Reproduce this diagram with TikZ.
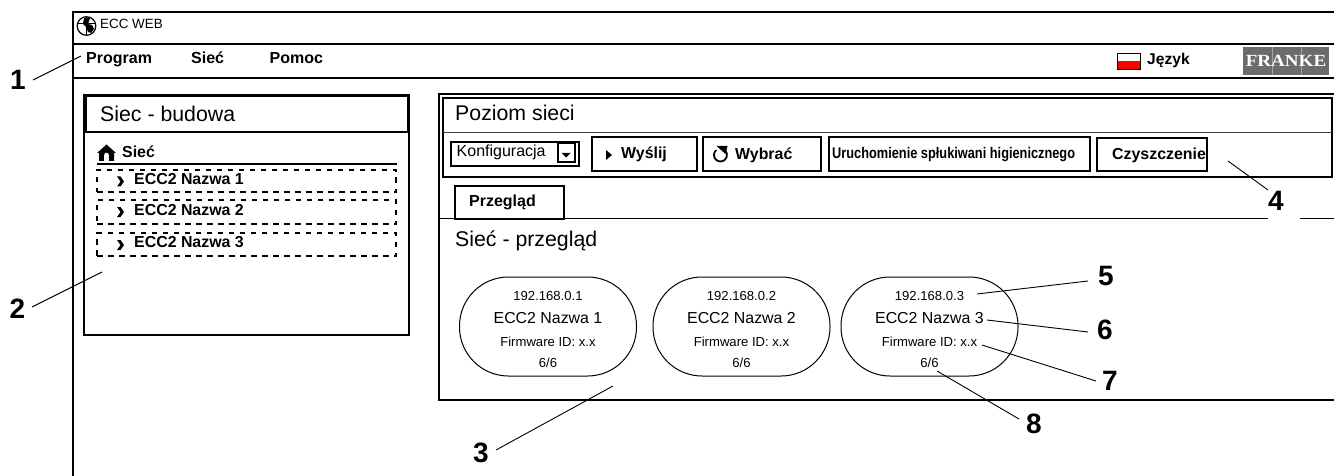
\documentclass[tikz,border=0pt]{standalone}
\usepackage{fontspec}
\usepackage{graphicx}
\setmainfont{Liberation Sans}
\tikzset{
  frame/.style={draw=black,line width=2pt,fill=none},
  rule/.style={draw=black,line width=2pt},
  thinrule/.style={draw=black!75,line width=1pt},
  btn/.style={draw=black,line width=2pt,minimum height=34pt,inner sep=0pt},
  dashbox/.style={draw=black,line width=1.2pt,dash pattern=on 5.5pt off 5.5pt,minimum width=299pt,inner sep=0pt},
  devbox/.style={draw=black,line width=1pt,rounded corners=49pt,minimum width=177pt,minimum height=99pt,inner sep=0pt},
  txt/.style={inner sep=0pt,anchor=base west},
  ctxt/.style={inner sep=0pt,anchor=center},
  btxt/.style={inner sep=0pt,anchor=base},
  menu/.style={txt,font=\bfseries\fontsize{16}{18}\selectfont},
  boldlab/.style={txt,font=\bfseries\fontsize{15.9}{18}\selectfont},
  title/.style={txt,font=\fontsize{21.3}{24}\selectfont},
  num/.style={ctxt,font=\bfseries\fontsize{28}{30}\selectfont},
  leader/.style={draw=black,line width=0.9pt},
  ip/.style={btxt,font=\fontsize{13.1}{15}\selectfont},
  dname/.style={btxt,font=\fontsize{15.9}{18}\selectfont},
}
\newcommand{\chev}[2]{\fill (#1-3,#2-5) -- (#1+0.5,#2-5) -- (#1+4,#2) -- (#1+0.5,#2+5) -- (#1-3,#2+5) -- (#1+0.5,#2) -- cycle;}
\newcommand{\device}[3]{%
  \node[devbox] (#1) at (#2,326.5) {};
  \node[ip] (#1ip) at (#2,300.5) {192.168.0.#3};
  \node[dname] (#1name) at (#2,323) {ECC2 Nazwa #3};
  \node[ip] (#1fw) at (#2,346.5) {Firmware ID: x.x};
  \node[ip] (#1st) at (#2,367) {6/6};
}
\begin{document}
\begin{tikzpicture}[x=1pt,y=-1pt]
\useasboundingbox (0,0) rectangle (1334,476);
% window
\coordinate (wtl) at (73,12); \coordinate (wtr) at (1334,12); \coordinate (wbl) at (73,476);
\draw[rule] (wtr) -- (wtl) -- (wbl);
\draw[rule] (73,44) -- (1334,44);
\draw[rule] (73,78) -- (1334,78);
% globe icon
\draw[line width=1.2pt] (86.5,26) circle (9.3);
\draw[line width=1pt] (77.5,24) -- (95.5,24) (86.5,17) -- (86.5,35);
\fill (84,18) -- (90,18) -- (88,24) -- (92,25) -- (94,29) -- (91,33) -- (88,32) -- (86,27) -- (83,24) -- cycle;
\node[txt,font=\fontsize{13.4}{15}\selectfont] (app) at (100,28.5) {ECC WEB};
% menu
\node[menu] (mprog) at (86,63.3) {Program};
\node[menu] (msiec) at (191,63.3) {Sieć};
\node[menu] (mpom) at (269.5,63.3) {Pomoc};
\node[menu,font=\bfseries\fontsize{15.6}{18}\selectfont] (lang) at (1147,65) {Język};
\draw[black,line width=0.8pt,fill=white] (1117.5,53.5) rectangle (1140.5,69.5);
\fill[red] (1118,61.5) rectangle (1140,69);
\draw[black,line width=0.8pt] (1117.5,53.5) rectangle (1140.5,69.5);
% logo
\node[fill=black!58,minimum width=86pt,minimum height=28pt,inner sep=0pt,text=white] (logo) at (1286,61)
  {\fontspec{Liberation Serif}\bfseries\fontsize{17}{18}\selectfont\scalebox{1.12}[1]{FRANKE}};
\draw[white,opacity=.4,line width=.7pt] (1272,47) -- (1272,75) (1301,47) -- (1301,75);
% left panel
\draw[frame] (84,95) rectangle (409,335);
\node[draw=black,line width=2pt,minimum width=322pt,minimum height=36pt,inner sep=0pt] (lhead) at (246.5,114.5) {};
\node[title] (ltitle) at (100,121.7) {Siec - budowa};
% home icon
\fill (97,153) -- (106.5,144.5) -- (116,153) -- (114,153) -- (114,161) -- (99,161) -- (99,153) -- cycle;
\fill[white] (104.2,161) -- (104.2,155) arc[start angle=180,end angle=360,radius=2.3] -- (108.8,161) -- cycle;
\node[boldlab] (hroot) at (122,158) {Sieć};
\draw[black,line width=1.3pt] (97,164) -- (397,164);
\node[dashbox,minimum height=22pt] (t1) at (246.5,181) {};
\node[dashbox,minimum height=24pt] (t2) at (246.5,212) {};
\node[dashbox,minimum height=23pt] (t3) at (246.5,244.5) {};
\chev{120}{181.5}
\chev{120}{212}
\chev{120}{245}
\node[boldlab] (t1l) at (134,185) {ECC2 Nazwa 1};
\node[boldlab] (t2l) at (134,215) {ECC2 Nazwa 2};
\node[boldlab] (t3l) at (134,247.5) {ECC2 Nazwa 3};
% right panel
\draw[rule] (1334,94) -- (439,94) -- (439,400) -- (1334,400);
\draw[rule] (1332,98) -- (443,98) -- (443,177) -- (1332,177) -- cycle;
\draw[thinrule] (443,133) -- (1332,133);
\node[title] (ptitle) at (455,120.7) {Poziom sieci};
% toolbar
\node[draw=black,line width=2pt,minimum width=128pt,minimum height=24pt,inner sep=0pt] (cfg) at (515,154) {};
\node[txt,font=\fontsize{16}{18}\selectfont] (cfgl) at (456.5,157) {Konfiguracja};
\node[draw=black,line width=2pt,minimum width=17pt,minimum height=19pt,inner sep=0pt] (cfgb) at (566.5,153) {};
\fill (561.5,153) -- (570.5,153) -- (566,157.5) -- cycle;
\node[btn,minimum width=105pt] (bw) at (644.5,154.5) {};
\fill (606,150) -- (612,155) -- (606,160) -- cycle;
\node[boldlab] (bwl) at (621,159) {Wyślij};
\node[btn,minimum width=118pt] (bv) at (762,154.5) {};
\draw[line width=1.8pt] (716.3,150) arc[start angle=230,end angle=-60,radius=6.5];
\fill (716.5,146) -- (727.5,146) -- (725.5,154) -- cycle;
\node[boldlab] (bvl) at (735,160) {Wybrać};
\node[btn,minimum width=261pt] (bu) at (959.5,154.5) {};
\node[txt,font=\bfseries\fontsize{15.4}{18}\selectfont] (bul) at (832,159) {\scalebox{0.83}[1]{Uruchomienie spłukiwani higienicznego}};
\node[btn,minimum width=110pt,minimum height=33pt] (bc) at (1152,154.5) {};
\node[boldlab] (bcl) at (1112,159.3) {Czyszczenie};
% tab
\draw[thinrule,draw=black] (439,218.5) -- (1268,218.5);
\draw[thinrule,draw=black] (1300,218.5) -- (1334,218.5);
\node[draw=black,line width=2pt,fill=white,minimum width=109pt,minimum height=33pt,inner sep=0pt] (tab) at (509.5,202.5) {};
\node[btxt,font=\bfseries\fontsize{16}{18}\selectfont] (tabl) at (502.5,206.7) {Przegląd};
\node[title] (ov) at (455,246) {Sieć - przegląd};
% devices
\device{d1}{548}{1}
\device{d2}{741.5}{2}
\device{d3}{929.5}{3}
% callouts
\node[num] (n1) at (18,80) {1};
\node[num] (n2) at (17.5,308.5) {2};
\node[num] (n3) at (481,453) {3};
\node[num] (n4) at (1276,201) {4};
\node[num] (n5) at (1106,276) {5};
\node[num] (n6) at (1105,330) {6};
\node[num] (n7) at (1110,381) {7};
\node[num] (n8) at (1034,424) {8};
\coordinate (p1) at (81,56);
\coordinate (p2) at (102,272);
\coordinate (p3) at (613,386);
\coordinate (p4) at (1228,161);
\coordinate (p5) at (977,294);
\coordinate (p6) at (987,320);
\coordinate (p7) at (982,345);
\coordinate (p8) at (937,371);
\draw[leader] (33,80) -- (p1);
\draw[leader] (32,307) -- (p2);
\draw[leader] (496,450) -- (p3);
\draw[leader] (1268,190) -- (p4);
\draw[leader] (1088,281) -- (p5);
\draw[leader] (1088,332) -- (p6);
\draw[leader] (1096,381) -- (p7);
\draw[leader] (1019,419) -- (p8);
\end{tikzpicture}
\end{document}
